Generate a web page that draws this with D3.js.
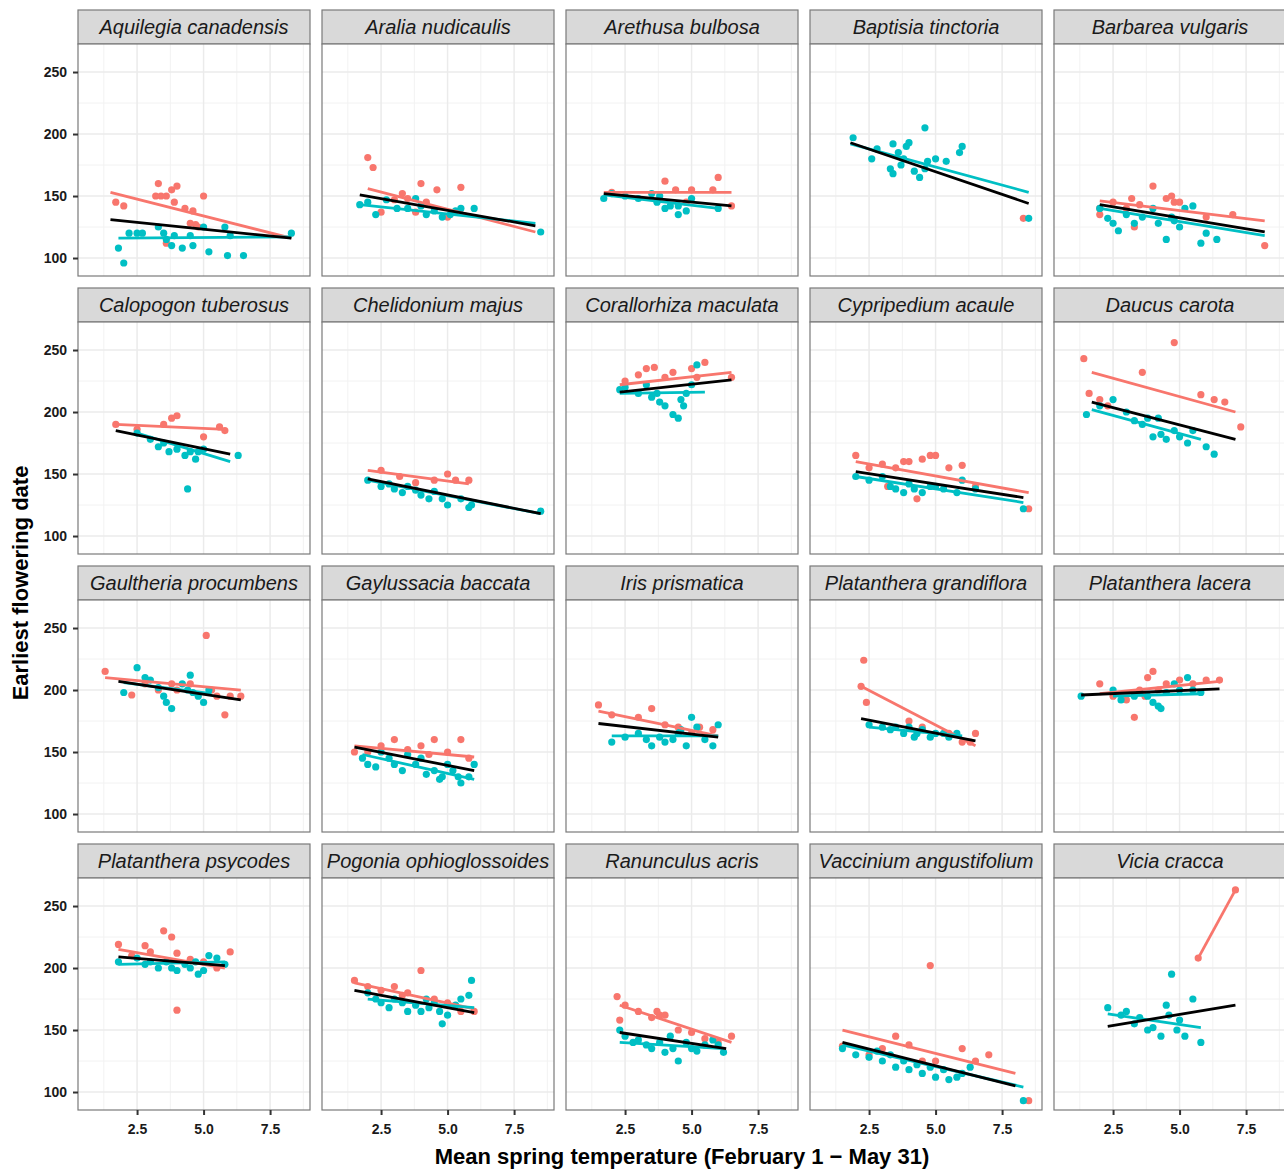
<!DOCTYPE html>
<html><head><meta charset="utf-8">
<script src="https://cdn.jsdelivr.net/npm/d3@7"></script>
<style>body{margin:0;background:#fff}svg{font-family:"Liberation Sans",Arial,sans-serif}</style>
</head><body><div id="chart"></div>
<script>
var species = ["Aquilegia canadensis","Aralia nudicaulis","Arethusa bulbosa","Baptisia tinctoria","Barbarea vulgaris",
"Calopogon tuberosus","Chelidonium majus","Corallorhiza maculata","Cypripedium acaule","Daucus carota",
"Gaultheria procumbens","Gaylussacia baccata","Iris prismatica","Platanthera grandiflora","Platanthera lacera",
"Platanthera psycodes","Pogonia ophioglossoides","Ranunculus acris","Vaccinium angustifolium","Vicia cracca"];

var xTicks = [2.5, 5.0, 7.5];
var yTicks = [100, 150, 200, 250];

// red group points [temp, day]
var redPoints = [
[[1.7,145],[2.0,142],[3.3,160],[3.2,150],[3.4,150],[3.6,150],[3.8,155],[4.0,158],[3.9,145],[4.3,140],[4.6,138],[5.0,150],[4.5,128],[4.7,127],[3.6,112],[4.8,125]],
[[2.0,181],[2.2,173],[3.0,147],[3.3,152],[3.5,148],[4.0,160],[4.2,145],[4.6,155],[5.5,157],[5.0,133],[2.5,137],[3.8,137]],
[[2.0,153],[4.0,162],[4.4,155],[5.0,155],[6.0,165],[5.8,155],[4.8,145],[6.5,142]],
[[8.3,132]],
[[2.0,140],[2.5,145],[3.0,140],[3.2,148],[3.5,143],[4.0,158],[4.5,148],[4.7,150],[4.8,145],[5.0,145],[6.0,133],[7.0,135],[8.2,110],[3.3,125],[2.0,135]],
[[1.7,190],[2.5,186],[3.5,190],[3.8,195],[4.0,197],[5.0,180],[5.6,188],[5.8,185]],
[[2.5,153],[3.2,148],[4.5,145],[5.0,150],[5.3,145],[5.8,145],[3.8,143]],
[[3.3,235],[3.6,236],[3.0,230],[4.3,232],[5.0,235],[5.5,240],[6.5,228],[2.5,225],[4.0,228],[5.2,228]],
[[2.0,165],[2.5,155],[3.0,158],[3.5,155],[3.8,160],[4.0,160],[4.5,162],[4.8,165],[5.0,165],[5.5,155],[6.0,157],[6.5,140],[8.5,122],[4.3,130],[3.2,140]],
[[1.4,243],[1.6,215],[2.0,210],[3.6,232],[4.8,256],[5.8,214],[6.3,210],[6.7,208],[7.3,188],[2.3,205]],
[[1.3,215],[2.3,196],[2.8,205],[3.3,200],[3.8,205],[4.0,200],[4.5,205],[5.1,244],[5.3,200],[5.5,195],[6.0,195],[6.4,195],[5.8,180]],
[[1.5,150],[2.0,150],[2.5,155],[3.0,160],[3.5,152],[4.0,155],[4.5,160],[5.0,150],[5.5,160],[5.8,145],[4.3,148]],
[[1.5,188],[2.0,180],[3.0,178],[3.5,185],[4.0,172],[4.5,170],[5.0,165],[5.3,170],[5.8,168]],
[[2.3,224],[2.2,203],[2.4,190],[4.5,170],[5.5,165],[6.0,158],[6.3,158],[6.5,165],[4.0,175]],
[[2.0,205],[2.5,195],[3.0,192],[3.3,178],[3.5,200],[3.8,210],[4.0,215],[4.2,200],[4.5,205],[5.0,208],[5.5,205],[6.0,208],[6.5,208],[3.7,195]],
[[1.8,219],[2.3,210],[2.8,218],[3.0,213],[3.5,230],[3.8,225],[4.0,212],[4.5,207],[4.0,166],[5.0,205],[5.5,200],[6.0,213]],
[[1.5,190],[2.0,185],[2.5,182],[3.0,185],[3.5,180],[4.0,198],[4.5,175],[5.0,172],[5.5,165],[6.0,165],[3.3,178]],
[[2.2,177],[2.3,158],[2.5,170],[3.0,165],[3.5,160],[3.8,162],[4.0,162],[4.5,150],[5.0,148],[5.5,143],[6.0,140],[6.5,145],[3.7,165]],
[[1.5,137],[2.5,130],[3.0,135],[3.5,145],[4.0,138],[4.5,125],[4.8,202],[5.0,125],[6.0,135],[6.5,125],[7.0,130],[8.5,93]],
[[5.7,208],[7.1,263]]
];

// teal group points
var tealPoints = [
[[1.8,108],[2.0,96],[2.2,120],[2.5,120],[2.7,120],[3.3,125],[3.5,120],[3.6,115],[3.8,110],[3.9,118],[4.2,108],[4.5,118],[4.6,110],[5.0,125],[5.2,105],[5.8,125],[6.0,118],[5.9,102],[6.5,102],[8.3,120]],
[[1.7,143],[2.0,145],[2.3,135],[2.7,147],[3.1,140],[3.5,140],[3.8,148],[4.0,142],[4.2,135],[4.5,138],[4.8,133],[5.1,135],[5.3,138],[5.5,140],[6.0,140],[8.5,121]],
[[1.7,148],[2.0,152],[2.5,150],[3.0,148],[3.5,152],[3.8,150],[4.0,140],[4.2,142],[4.5,135],[4.8,138],[4.5,142],[5.0,148],[6.0,140],[3.7,145]],
[[1.9,197],[2.8,188],[2.6,180],[3.4,192],[3.3,172],[3.4,168],[3.6,185],[3.8,180],[3.9,190],[4.0,193],[4.6,205],[4.2,170],[4.4,165],[4.6,172],[4.7,178],[5.0,180],[5.4,178],[5.9,185],[6.0,190],[3.7,175],[8.5,132]],
[[2.0,140],[2.3,132],[2.5,128],[2.7,122],[3.0,135],[3.3,128],[3.6,133],[4.0,140],[4.2,128],[4.5,115],[4.8,130],[5.0,125],[5.2,140],[5.5,142],[6.0,120],[6.4,115],[5.8,112],[4.7,133]],
[[2.5,183],[3.0,178],[3.3,172],[3.5,175],[3.7,168],[4.0,170],[4.3,165],[4.5,168],[4.7,162],[4.4,138],[5.0,170],[6.3,165],[4.8,168]],
[[2.0,145],[2.5,140],[2.8,142],[3.0,138],[3.3,135],[3.5,140],[3.8,137],[4.0,133],[4.3,130],[4.5,136],[4.8,130],[5.0,125],[5.5,130],[5.8,123],[5.9,125],[8.5,120]],
[[2.3,218],[2.5,220],[3.0,215],[3.3,222],[3.5,212],[3.8,208],[4.0,205],[4.3,198],[4.5,195],[4.7,205],[4.8,215],[5.0,222],[5.2,238],[4.6,210],[3.7,215]],
[[2.0,148],[2.5,145],[3.0,148],[3.3,140],[3.5,138],[3.8,135],[4.0,142],[4.2,138],[4.5,135],[4.8,140],[5.0,140],[5.3,138],[5.8,135],[6.0,145],[6.5,138],[8.3,122]],
[[1.5,198],[2.0,205],[2.5,210],[3.0,200],[3.3,193],[3.6,190],[3.8,195],[4.0,180],[4.2,195],[4.5,178],[4.8,185],[5.0,180],[5.3,175],[5.5,185],[6.0,172],[6.3,166],[4.3,182]],
[[2.0,198],[2.5,218],[2.8,210],[3.0,208],[3.3,202],[3.5,195],[3.6,190],[3.8,185],[4.2,205],[4.5,212],[4.6,198],[4.8,195],[5.0,190],[5.2,200],[4.4,200]],
[[1.8,145],[2.0,140],[2.3,138],[2.5,150],[2.8,145],[3.0,140],[3.3,135],[3.5,148],[3.8,140],[4.0,145],[4.2,132],[4.5,135],[4.7,128],[5.0,140],[5.2,135],[5.4,130],[5.5,125],[5.8,130],[6.0,140],[4.8,130]],
[[2.0,158],[2.5,162],[3.0,165],[3.3,160],[3.5,155],[3.8,162],[4.0,158],[4.3,160],[4.5,165],[4.8,155],[5.0,178],[5.2,170],[5.5,160],[5.8,155],[6.0,172],[4.6,168]],
[[2.5,172],[3.0,170],[3.3,168],[3.5,170],[3.8,165],[4.0,170],[4.3,165],[4.5,168],[4.8,162],[5.0,165],[5.3,165],[5.5,162],[5.8,165],[4.2,162]],
[[1.3,195],[2.5,200],[2.8,192],[3.3,195],[3.5,198],[3.8,195],[4.0,190],[4.3,185],[4.5,198],[4.8,205],[5.0,200],[5.3,210],[5.5,200],[5.8,198],[4.2,187]],
[[1.8,205],[2.5,208],[2.8,203],[3.0,205],[3.3,200],[3.6,205],[3.8,200],[4.0,198],[4.3,203],[4.5,200],[4.7,205],[5.0,198],[5.2,210],[5.5,208],[5.8,203],[4.8,195]],
[[2.0,180],[2.3,175],[2.5,172],[2.8,168],[3.0,175],[3.3,172],[3.5,165],[3.8,170],[4.0,165],[4.3,168],[4.5,172],[4.7,165],[4.8,155],[5.0,162],[5.3,170],[5.5,175],[5.8,178],[5.9,190],[4.2,175]],
[[2.3,150],[2.5,145],[2.8,140],[3.0,142],[3.3,138],[3.5,135],[3.8,140],[4.0,132],[4.3,135],[4.5,125],[4.8,140],[5.0,135],[5.2,133],[5.5,138],[5.8,142],[6.0,138],[6.2,132],[4.2,145]],
[[1.5,135],[2.0,130],[2.5,128],[2.8,133],[3.0,125],[3.3,130],[3.5,120],[3.8,125],[4.0,118],[4.3,122],[4.5,115],[4.8,120],[5.0,112],[5.3,118],[5.5,110],[5.8,112],[6.0,115],[6.3,120],[8.3,93]],
[[2.3,168],[2.8,162],[3.0,165],[3.3,155],[3.5,160],[3.8,150],[4.0,152],[4.3,145],[4.5,170],[4.7,195],[4.6,162],[5.0,158],[5.2,145],[5.5,175],[5.8,140],[4.9,150]]
];

// fitted lines [x0, y0, x1, y1]
var redFits = [
[1.5,153,8.3,116],[2.0,156,8.3,121],[1.7,153,6.5,153],null,[2.0,146,8.2,130],
[1.7,190,5.8,186],[2.0,153,5.8,142],[2.3,222,6.5,232],[2.0,160,8.5,135],[1.7,232,7.1,200],
[1.3,210,6.4,200],[1.5,155,6.0,146],[1.5,183,6.0,163],[2.2,203,6.5,155],[2.0,197,6.5,207],
[1.8,215,5.8,200],[1.5,188,6.0,167],[2.3,170,6.5,140],[1.5,150,8.0,115],[5.7,208,7.1,263]
];
var tealFits = [
[1.8,116,8.3,117],[1.7,143,8.3,128],[1.7,151,6.0,140],[1.8,192,8.5,153],[2.0,140,8.2,118],
[2.5,183,6.0,160],[2.0,145,8.5,118],[2.3,215,5.5,216],[2.0,148,8.3,127],[1.7,202,5.8,178],
[2.0,206,5.3,197],[1.8,148,6.0,128],[2.0,163,6.0,163],[2.5,170,6.0,163],[2.5,195,5.8,197],
[1.8,203,5.8,205],[2.0,175,6.0,168],[2.3,140,6.2,135],[1.5,138,8.3,104],[2.3,163,5.8,152]
];
var allFits = [
[1.5,131,8.3,116],[1.7,151,8.3,126],[1.7,152,6.5,142],[1.8,193,8.5,144],[2.0,143,8.2,121],
[1.7,185,6.0,166],[2.0,146,8.5,118],[2.3,216,6.5,226],[2.0,152,8.3,131],[1.7,208,7.1,178],
[1.8,207,6.4,192],[1.5,154,6.0,135],[1.5,173,6.0,162],[2.2,177,6.5,159],[1.3,196,6.5,201],
[1.8,209,5.8,202],[1.5,182,6.0,164],[2.3,148,6.3,135],[1.5,140,8.0,105],[2.3,153,7.1,170]
];

var RED = "#F8766D", TEAL = "#00BFC4";
var W = 1284, H = 1169;
var pw = 232, ph = 232, gap = 12, stripH = 34;
var left0 = 78, top0 = 10, rowStep = 278;

var svg = d3.select("#chart").append("svg").attr("width", W).attr("height", H);

var x = d3.scaleLinear().domain([0.28, 9.0]).range([0, pw]);
var y = d3.scaleLinear().domain([85.5, 272.6]).range([ph, 0]);
var minorX = [1.25, 3.75, 6.25, 8.75], minorY = [125, 175, 225];

species.forEach(function(name, i){
	var col = i % 5, row = Math.floor(i / 5);
	var px = left0 + col * (pw + gap), py = top0 + row * rowStep;

	var strip = svg.append("g").attr("transform", "translate(" + px + "," + py + ")");
	strip.append("rect").attr("width", pw).attr("height", stripH)
		.attr("fill", "#D9D9D9").attr("stroke", "#7a7a7a").attr("stroke-width", 1.2);
	var t = strip.append("text").attr("x", pw / 2).attr("y", stripH / 2 + 7)
		.attr("text-anchor", "middle").attr("font-size", 20).attr("font-style", "italic")
		.attr("fill", "#1a1a1a").text(name);
	if (t.node().getComputedTextLength() > pw - 4) t.attr("textLength", pw - 4).attr("lengthAdjust", "spacingAndGlyphs");

	var g = svg.append("g").attr("transform", "translate(" + px + "," + (py + stripH) + ")");
	g.append("rect").attr("width", pw).attr("height", ph).attr("fill", "#fff");
	minorX.forEach(function(v){ g.append("line").attr("x1", x(v)).attr("x2", x(v)).attr("y1", 0).attr("y2", ph).attr("stroke", "#F2F2F2").attr("stroke-width", 1); });
	minorY.forEach(function(v){ g.append("line").attr("y1", y(v)).attr("y2", y(v)).attr("x1", 0).attr("x2", pw).attr("stroke", "#F2F2F2").attr("stroke-width", 1); });
	xTicks.forEach(function(v){ g.append("line").attr("x1", x(v)).attr("x2", x(v)).attr("y1", 0).attr("y2", ph).attr("stroke", "#EBEBEB").attr("stroke-width", 1.5); });
	yTicks.forEach(function(v){ g.append("line").attr("y1", y(v)).attr("y2", y(v)).attr("x1", 0).attr("x2", pw).attr("stroke", "#EBEBEB").attr("stroke-width", 1.5); });

	g.selectAll("circle.r").data(redPoints[i]).enter().append("circle")
		.attr("cx", function(d){ return x(d[0]); }).attr("cy", function(d){ return y(d[1]); })
		.attr("r", 3.6).attr("fill", RED);
	g.selectAll("circle.t").data(tealPoints[i]).enter().append("circle")
		.attr("cx", function(d){ return x(d[0]); }).attr("cy", function(d){ return y(d[1]); })
		.attr("r", 3.6).attr("fill", TEAL);

	[[redFits[i], RED], [tealFits[i], TEAL], [allFits[i], "#000"]].forEach(function(f){
		if (!f[0]) return;
		var l = f[0];
		g.append("line").attr("x1", x(l[0])).attr("y1", y(l[1])).attr("x2", x(l[2])).attr("y2", y(l[3]))
			.attr("stroke", f[1]).attr("stroke-width", 2.8);
	});

	g.append("rect").attr("width", pw).attr("height", ph).attr("fill", "none").attr("stroke", "#7a7a7a").attr("stroke-width", 1.2);

	if (col === 0) {
		var ya = g.append("g").call(d3.axisLeft(y).tickValues(yTicks).tickSize(5).tickPadding(6));
		ya.select(".domain").remove();
		ya.selectAll("line").attr("stroke", "#333").attr("stroke-width", 2);
		ya.selectAll("text").attr("font-size", 14).attr("font-weight", "bold").attr("fill", "#1a1a1a")
			.attr("font-family", "Liberation Sans, Arial, sans-serif");
	}
	if (row === 3) {
		var xa = g.append("g").attr("transform", "translate(0," + ph + ")")
			.call(d3.axisBottom(x).tickValues(xTicks).tickFormat(d3.format(".1f")).tickSize(5).tickPadding(9));
		xa.select(".domain").remove();
		xa.selectAll("line").attr("stroke", "#333").attr("stroke-width", 2);
		xa.selectAll("text").attr("font-size", 14).attr("font-weight", "bold").attr("fill", "#1a1a1a")
			.attr("font-family", "Liberation Sans, Arial, sans-serif");
	}
});

svg.append("text").attr("x", 682).attr("y", 1164).attr("text-anchor", "middle")
	.attr("font-size", 22).attr("font-weight", "bold").text("Mean spring temperature (February 1 \u2212 May 31)");
svg.append("text").attr("transform", "translate(28,583) rotate(-90)").attr("text-anchor", "middle")
	.attr("font-size", 22).attr("font-weight", "bold").text("Earliest flowering date");
</script></body></html>
